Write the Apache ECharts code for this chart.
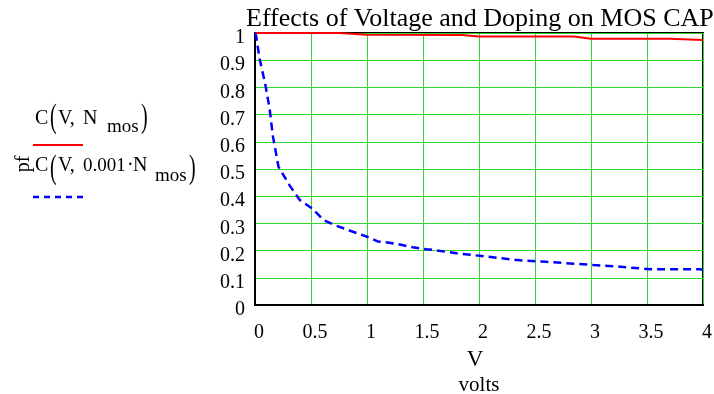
<!DOCTYPE html>
<html>
<head>
<meta charset="utf-8">
<script src="https://cdn.jsdelivr.net/npm/echarts@6/dist/echarts.min.js"></script>
<style>
  html, body { margin: 0; padding: 0; background: #fff; }
  #chart { width: 714px; height: 394px; }
</style>
</head>
<body>
<div id="chart"></div>
<script>
// values
const volts = [0, 0.5, 1, 1.5, 2, 2.5, 3, 3.5, 4];

const redV = [0, 0.75, 1.0, 1.85, 2.0, 2.85, 3.0, 3.7, 4.0];
const redC = [1.0, 1.0, 0.994, 0.993, 0.987, 0.987, 0.979, 0.979, 0.974];

const blueV = [0, 0.01, 0.04, 0.09, 0.13, 0.16, 0.21, 0.31, 0.40, 0.51, 0.61, 0.71, 0.85, 1.0, 1.1,
    1.2, 1.27, 1.41, 1.53, 1.6, 1.8, 2.07, 2.34, 2.6, 2.81, 3.02, 3.26, 3.53, 3.97, 4.0];
const blueC = [1.0, 0.99, 0.907, 0.815, 0.723, 0.62, 0.508, 0.439, 0.386, 0.355, 0.313, 0.294, 0.273, 0.251, 0.233,
    0.229, 0.224, 0.212, 0.205, 0.202, 0.19, 0.178, 0.165, 0.159, 0.153, 0.147, 0.141, 0.131, 0.131, 0.13];

const serif = '"Liberation Serif", "DejaVu Serif", serif';

const zip = (xs, ys) => xs.map((x, i) => [x, ys[i]]);

const txt = (x, y, text, size, extra) => ({
    type: 'text',
    x: x,
    y: y,
    style: Object.assign({
        text: text,
        font: size + 'px ' + serif,
        fill: '#000',
        verticalAlign: 'middle'
    }, extra || {})
});

const paren = (x, y, ch) => {
    const t = txt(x, y, ch, 20);
    t.scaleY = 1.65;
    return t;
};

const chart = echarts.init(document.getElementById('chart'));

chart.setOption({
    animation: false,
    backgroundColor: '#fff',
    title: {
        text: 'Effects of Voltage and Doping on MOS CAP',
        left: 241,
        top: 1,
        textStyle: { fontFamily: serif, fontSize: 26, fontWeight: 'normal', color: '#000' }
    },
    grid: {
        left: 255, right: 11, top: 33, bottom: 89,
        outerBoundsMode: 'none',
        show: true, borderColor: '#000', borderWidth: 2, backgroundColor: 'transparent'
    },
    xAxis: {
        type: 'value',
        min: volts[0],
        max: volts[volts.length - 1],
        interval: 0.5,
        name: '{a|V}\n{b|volts}',
        nameLocation: 'middle',
        nameGap: 42,
        nameTextStyle: {
            rich: {
                a: { fontFamily: serif, fontSize: 23, color: '#000', lineHeight: 26, align: 'center', padding: [0, 8, 0, 0] },
                b: { fontFamily: serif, fontSize: 21, color: '#000', lineHeight: 24, align: 'center' }
            }
        },
        axisLine: { show: true, onZero: false, lineStyle: { color: '#000', width: 2 } },
        axisTick: { show: false },
        axisLabel: {
            fontFamily: serif, fontSize: 20, color: '#000', margin: 18,
            padding: [0, 0, 0, 8]
        },
        splitLine: { show: true, lineStyle: { color: '#2ed82e', width: 1 } }
    },
    yAxis: {
        type: 'value',
        min: 0,
        max: 1,
        interval: 0.1,
        axisLine: { show: true, lineStyle: { color: '#000', width: 2 } },
        axisTick: { show: false },
        axisLabel: {
            fontFamily: serif, fontSize: 20, color: '#000', margin: 10,
            verticalAlign: 'top', lineHeight: 10,
            formatter: v => String(Math.round(v * 10) / 10)
        },
        splitLine: { show: true, lineStyle: { color: '#2ed82e', width: 1 } }
    },
    series: [
        {
            name: 'C(V, Nmos)',
            type: 'line',
            symbol: 'none',
            lineStyle: { color: '#ff0000', width: 2 },
            data: zip(redV, redC),
            z: 3
        },
        {
            name: 'C(V, 0.001*Nmos)',
            type: 'line',
            symbol: 'none',
            lineStyle: { color: '#0000ff', width: 2.5, type: [8, 5] },
            data: zip(blueV, blueC),
            z: 4
        }
    ],
    graphic: [
        // "pf" reads bottom to top
        Object.assign(txt(24, 164, 'pf', 20, { align: 'center' }), { rotation: Math.PI / 2 }),

        // first legend entry
        txt(35, 119, 'C', 20),
        paren(50, 118, '('),
        txt(58, 119, 'V,', 20),
        txt(83, 119, 'N', 20),
        txt(107, 127, 'mos', 19),
        paren(141, 118, ')'),
        { type: 'line', shape: { x1: 33, y1: 145, x2: 83, y2: 145 }, style: { stroke: '#ff0000', lineWidth: 2 } },

        // second legend entry
        txt(35, 166, 'C', 20),
        paren(50, 169, '('),
        txt(58, 166, 'V,', 20),
        txt(83, 166, '0.001', 19),
        txt(127, 166, '\u00b7', 20),
        txt(133, 166, 'N', 20),
        txt(155, 176, 'mos', 19),
        paren(189, 169, ')'),
        { type: 'line', shape: { x1: 33, y1: 197, x2: 83, y2: 197 }, style: { stroke: '#0000ff', lineWidth: 2.5, lineDash: [6, 5] } }
    ]
});
</script>
</body>
</html>
